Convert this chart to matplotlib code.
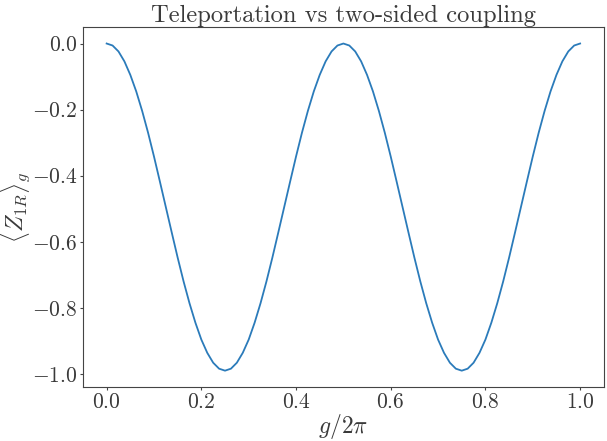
import matplotlib
matplotlib.use('Agg')
import matplotlib.pyplot as plt

plt.rcParams['font.family'] = 'cmr10'
plt.rcParams['mathtext.fontset'] = 'cm'
plt.rcParams['axes.formatter.use_mathtext'] = True

# values, every 0.0125 in g/2pi
g = [0.0000, 0.0125, 0.0250, 0.0375, 0.0500, 0.0625, 0.0750, 0.0875, 0.1000, 0.1125,
     0.1250, 0.1375, 0.1500, 0.1625, 0.1750, 0.1875, 0.2000, 0.2125, 0.2250, 0.2375,
     0.2500, 0.2625, 0.2750, 0.2875, 0.3000, 0.3125, 0.3250, 0.3375, 0.3500, 0.3625,
     0.3750, 0.3875, 0.4000, 0.4125, 0.4250, 0.4375, 0.4500, 0.4625, 0.4750, 0.4875,
     0.5000, 0.5125, 0.5250, 0.5375, 0.5500, 0.5625, 0.5750, 0.5875, 0.6000, 0.6125,
     0.6250, 0.6375, 0.6500, 0.6625, 0.6750, 0.6875, 0.7000, 0.7125, 0.7250, 0.7375,
     0.7500, 0.7625, 0.7750, 0.7875, 0.8000, 0.8125, 0.8250, 0.8375, 0.8500, 0.8625,
     0.8750, 0.8875, 0.9000, 0.9125, 0.9250, 0.9375, 0.9500, 0.9625, 0.9750, 0.9875,
     1.0000]
z1r = [0.000, -0.006, -0.024, -0.054, -0.095, -0.145, -0.204, -0.270, -0.342, -0.418,
       -0.495, -0.572, -0.648, -0.720, -0.786, -0.845, -0.896, -0.936, -0.966, -0.984,
       -0.990, -0.984, -0.966, -0.936, -0.896, -0.845, -0.786, -0.720, -0.648, -0.572,
       -0.495, -0.418, -0.342, -0.270, -0.204, -0.145, -0.095, -0.054, -0.024, -0.006,
       0.000, -0.006, -0.024, -0.054, -0.095, -0.145, -0.204, -0.270, -0.342, -0.418,
       -0.495, -0.572, -0.648, -0.720, -0.786, -0.845, -0.896, -0.936, -0.966, -0.984,
       -0.990, -0.984, -0.966, -0.936, -0.896, -0.845, -0.786, -0.720, -0.648, -0.572,
       -0.495, -0.418, -0.342, -0.270, -0.204, -0.145, -0.095, -0.054, -0.024, -0.006,
       0.000]

fig = plt.figure(figsize=(6.07, 4.41), dpi=100)
ax = fig.add_axes([0.1367, 0.1224, 0.858, 0.816])
ax.plot(g, z1r, color='#2b7bba', lw=1.3)

txt = '#3a3a3a'
ax.set_title('Teleportation vs two-sided coupling', fontsize=17.7, pad=4, color=txt)
ax.set_xlabel(r'$g/2\pi$', fontsize=17, color=txt)
ax.set_ylabel(r'$\langle Z_{1R}\rangle_g$', fontsize=17, color=txt)
ax.xaxis.set_label_coords(0.5, -0.069)
ax.yaxis.set_label_coords(-0.096, 0.5)
ax.set_xticks([0.0, 0.2, 0.4, 0.6, 0.8, 1.0])
ax.set_yticks([0.0, -0.2, -0.4, -0.6, -0.8, -1.0])
ax.tick_params(labelsize=15.5, length=2.5, pad=1.5, colors='#444444', labelcolor=txt)
for s in ax.spines.values():
    s.set_color('#444444')

fig.savefig('out.png', dpi=100)
